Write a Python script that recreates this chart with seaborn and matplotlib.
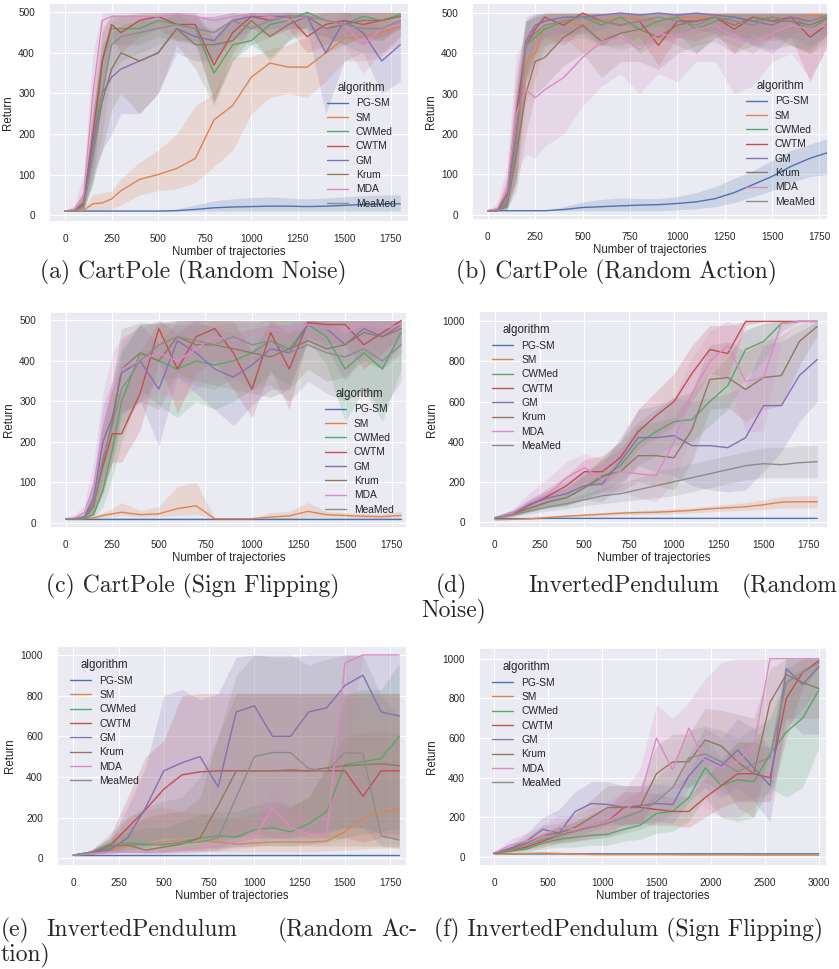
import pandas as pd
import matplotlib
matplotlib.use("Agg")
import matplotlib.pyplot as plt
import seaborn as sns

# algorytmy w kolejnosci legendy
ALGOS = ["PG-SM", "SM", "CWMed", "CWTM", "GM", "Krum", "MDA", "MeaMed"]

# osie x (liczba trajektorii)
X_CP = [0, 50, 100, 150, 200, 250, 300, 400, 500, 600, 700, 800, 900, 1000,
        1100, 1200, 1300, 1400, 1500, 1600, 1700, 1800]
X_IP = [0, 100, 200, 300, 400, 500, 600, 700, 800, 900, 1000, 1100, 1200,
        1300, 1400, 1500, 1600, 1700, 1800]
X_IP3K = [0, 150, 300, 450, 600, 750, 900, 1050, 1200, 1350, 1500, 1650,
          1800, 1950, 2100, 2250, 2400, 2550, 2700, 2850, 3000]

# (a) CartPole, Random Noise
A_MEAN = {
    "PG-SM": [10, 10, 10, 10, 10, 10, 10, 10, 10, 11, 14, 18, 20, 21, 22, 22, 21, 22, 24, 26, 27, 28],
    "SM": [10, 10, 12, 28, 30, 40, 60, 88, 100, 115, 140, 235, 270, 340, 375, 365, 365, 400, 435, 440, 450, 465],
    "CWMed": [10, 10, 30, 150, 380, 460, 460, 460, 480, 470, 460, 350, 420, 430, 470, 480, 500, 480, 470, 490, 480, 495],
    "CWTM": [10, 10, 30, 200, 380, 470, 450, 480, 490, 470, 470, 370, 450, 490, 480, 490, 440, 470, 480, 470, 480, 490],
    "GM": [10, 10, 25, 180, 300, 340, 360, 380, 400, 460, 440, 430, 480, 490, 490, 490, 490, 400, 480, 450, 380, 420],
    "Krum": [10, 10, 25, 150, 280, 360, 400, 380, 400, 460, 420, 420, 430, 480, 440, 470, 490, 460, 470, 480, 480, 490],
    "MDA": [10, 15, 50, 300, 480, 490, 490, 490, 490, 495, 490, 480, 490, 495, 490, 480, 490, 480, 470, 420, 460, 470],
    "MeaMed": [10, 10, 20, 150, 300, 420, 440, 450, 460, 470, 460, 450, 480, 460, 480, 490, 490, 480, 470, 460, 460, 480],
}
A_LO = {
    "PG-SM": [10] * 22,
    "SM": [10, 10, 10, 12, 12, 15, 25, 50, 60, 65, 80, 120, 160, 250, 290, 300, 290, 330, 380, 380, 390, 440],
    "CWMed": [10, 10, 15, 80, 300, 420, 420, 420, 440, 430, 420, 280, 380, 420, 390, 430, 450, 440, 420, 440, 430, 470],
    "CWTM": [10, 10, 15, 120, 300, 440, 400, 440, 460, 430, 430, 280, 400, 460, 440, 460, 400, 420, 440, 420, 440, 460],
    "GM": [10, 10, 15, 100, 160, 200, 250, 250, 300, 400, 380, 380, 430, 460, 460, 460, 460, 250, 380, 400, 300, 330],
    "Krum": [10, 10, 15, 80, 160, 260, 300, 250, 300, 420, 360, 270, 380, 440, 380, 430, 470, 400, 420, 440, 430, 460],
    "MDA": [10, 10, 20, 200, 430, 470, 470, 470, 470, 480, 470, 440, 460, 480, 470, 440, 470, 440, 420, 350, 400, 420],
    "MeaMed": [10, 10, 12, 80, 200, 350, 380, 400, 420, 440, 420, 380, 440, 420, 440, 460, 460, 440, 420, 400, 400, 440],
}
A_HI = {
    "PG-SM": [10, 10, 10, 10, 10, 10, 10, 10, 11, 15, 25, 35, 40, 43, 45, 42, 40, 42, 45, 48, 50, 50],
    "SM": [10, 12, 20, 50, 55, 60, 90, 130, 160, 200, 270, 300, 390, 390, 410, 420, 440, 460, 470, 470, 480, 480],
    "CWMed": [10, 15, 60, 250, 450, 495, 495, 495, 500, 500, 495, 430, 480, 500, 500, 500, 500, 500, 500, 500, 500, 500],
    "CWTM": [10, 15, 60, 300, 460, 495, 490, 500, 500, 500, 500, 440, 490, 500, 500, 500, 490, 500, 500, 500, 500, 500],
    "GM": [10, 15, 50, 260, 420, 460, 460, 480, 490, 500, 490, 490, 500, 500, 500, 500, 500, 460, 500, 490, 460, 480],
    "Krum": [10, 15, 50, 250, 400, 450, 470, 480, 480, 495, 470, 460, 480, 500, 480, 500, 500, 500, 500, 500, 500, 500],
    "MDA": [10, 25, 100, 400] + [500] * 18,
    "MeaMed": [10, 15, 40, 250, 420, 480, 490, 490, 490, 495, 490, 490, 500, 490, 500, 500, 500, 500, 500, 500, 500, 500],
}

# (b) CartPole, Random Action
B_MEAN = {
    "PG-SM": [10, 10, 10, 10, 10, 10, 10, 13, 18, 20, 22, 24, 25, 28, 32, 40, 55, 75, 95, 120, 140, 155],
    "SM": [10, 12, 30, 170, 380, 400, 470, 480, 470, 480, 490, 485, 480, 490, 490, 495, 490, 480, 490, 485, 495, 490],
    "CWMed": [10, 12, 40, 200, 420, 440, 460, 480, 490, 470, 490, 460, 480, 490, 460, 480, 490, 480, 490, 480, 460, 490],
    "CWTM": [10, 12, 50, 250, 420, 460, 490, 470, 500, 480, 470, 480, 420, 480, 480, 490, 460, 490, 480, 490, 440, 475],
    "GM": [10, 10, 30, 200, 430, 470, 480, 490, 490, 495, 500, 495, 500, 495, 500, 495, 490, 480, 470, 490, 480, 495],
    "Krum": [10, 10, 20, 150, 300, 380, 390, 440, 470, 430, 450, 460, 440, 470, 480, 490, 470, 490, 480, 480, 470, 490],
    "MDA": [10, 15, 60, 250, 310, 290, 310, 340, 390, 430, 440, 410, 450, 440, 460, 470, 440, 430, 450, 470, 460, 470],
    "MeaMed": [10, 10, 25, 180, 420, 450, 470, 480, 490, 480, 470, 480, 490, 480, 470, 490, 480, 470, 490, 480, 480, 495],
}
B_LO = {
    "PG-SM": [10, 10, 10, 10, 10, 10, 10, 10, 10, 10, 10, 10, 10, 12, 15, 20, 30, 45, 60, 80, 95, 100],
    "SM": [10, 10, 15, 80, 280, 340, 420, 440, 400, 420, 450, 420, 430, 440, 450, 460, 450, 420, 440, 450, 460, 440],
    "CWMed": [10, 10, 20, 100, 330, 380, 400, 440, 450, 420, 450, 400, 430, 450, 400, 440, 450, 430, 450, 420, 400, 450],
    "CWTM": [10, 10, 25, 130, 340, 400, 440, 420, 460, 420, 420, 440, 370, 440, 430, 450, 400, 450, 430, 440, 330, 430],
    "GM": [10, 10, 15, 90, 350, 420, 440, 450, 450, 460, 470, 460, 470, 450, 460, 450, 440, 420, 400, 440, 420, 450],
    "Krum": [10, 10, 12, 60, 200, 300, 320, 370, 400, 340, 380, 380, 360, 400, 420, 430, 400, 420, 410, 420, 400, 430],
    "MDA": [10, 10, 20, 100, 150, 140, 170, 200, 270, 320, 350, 300, 350, 330, 380, 380, 300, 320, 380, 400, 340, 420],
    "MeaMed": [10, 10, 12, 80, 330, 390, 420, 430, 440, 420, 410, 420, 440, 420, 400, 440, 420, 400, 440, 420, 410, 450],
}
B_HI = {
    "PG-SM": [10, 10, 10, 10, 10, 10, 10, 20, 32, 38, 42, 40, 40, 45, 55, 70, 90, 110, 135, 160, 175, 190],
    "SM": [10, 20, 70, 300, 450, 470, 500] + [500] * 15,
    "CWMed": [10, 20, 80, 300, 480, 490, 495] + [500] * 15,
    "CWTM": [10, 20, 90, 350, 480, 495, 500, 500, 500, 500, 500, 500, 480] + [500] * 9,
    "GM": [10, 15, 60, 320, 490, 500, 500] + [500] * 15,
    "Krum": [10, 15, 40, 250, 420, 460, 470, 490, 500, 495] + [500] * 12,
    "MDA": [10, 30, 120, 400, 430, 440, 460, 470, 480, 495, 500, 490] + [500] * 10,
    "MeaMed": [10, 15, 50, 280, 480, 495] + [500] * 16,
}

# (c) CartPole, Sign Flipping
C_MEAN = {
    "PG-SM": [10] * 22,
    "SM": [10, 10, 10, 12, 18, 22, 26, 20, 22, 35, 42, 10, 10, 10, 14, 17, 28, 20, 18, 16, 15, 18],
    "CWMed": [10, 10, 10, 20, 80, 180, 300, 420, 400, 380, 400, 390, 400, 420, 450, 430, 490, 460, 380, 420, 380, 470],
    "CWTM": [10, 10, 12, 50, 140, 220, 220, 320, 480, 380, 460, 480, 420, 330, 470, 380, 495, 490, 490, 440, 470, 500],
    "GM": [10, 10, 15, 60, 200, 260, 370, 400, 330, 450, 420, 380, 360, 390, 430, 420, 490, 480, 440, 480, 460, 490],
    "Krum": [10, 10, 12, 40, 150, 250, 380, 420, 400, 460, 440, 440, 430, 420, 410, 430, 450, 430, 440, 470, 460, 480],
    "MDA": [10, 12, 25, 90, 230, 320, 380, 400, 420, 400, 430, 460, 450, 470, 480, 470, 490, 480, 470, 490, 480, 490],
    "MeaMed": [10, 10, 12, 50, 160, 240, 330, 400, 440, 460, 450, 440, 460, 440, 450, 420, 440, 420, 410, 430, 400, 440],
}
C_LO = {
    "PG-SM": [10] * 22,
    "SM": [10, 10, 10, 10, 12, 15, 18, 14, 15, 18, 20, 10, 10, 10, 10, 10, 15, 14, 14, 12, 12, 12],
    "CWMed": [10, 10, 10, 12, 40, 110, 200, 330, 290, 260, 300, 280, 300, 330, 370, 340, 450, 390, 250, 330, 250, 380],
    "CWTM": [10, 10, 10, 20, 70, 150, 150, 230, 400, 270, 370, 400, 330, 260, 380, 280, 460, 440, 440, 380, 420, 460],
    "GM": [10, 10, 10, 25, 110, 170, 270, 300, 190, 360, 320, 280, 240, 290, 330, 330, 450, 430, 350, 420, 380, 440],
    "Krum": [10, 10, 10, 20, 80, 150, 270, 300, 280, 370, 350, 340, 330, 320, 310, 330, 380, 350, 360, 400, 380, 420],
    "MDA": [10, 10, 15, 40, 140, 220, 280, 300, 320, 300, 330, 360, 350, 380, 400, 380, 440, 420, 400, 430, 420, 440],
    "MeaMed": [10, 10, 10, 25, 90, 150, 240, 300, 350, 360, 340, 330, 360, 330, 340, 300, 350, 320, 300, 330, 280, 350],
}
C_HI = {
    "PG-SM": [11] * 22,
    "SM": [10, 10, 10, 15, 25, 35, 50, 30, 40, 90, 100, 12, 10, 12, 25, 28, 50, 28, 25, 22, 22, 28],
    "CWMed": [10, 10, 15, 40, 150, 280, 420, 490, 495, 490, 490, 490, 495, 495, 500, 500, 500, 500, 470, 490, 480, 500],
    "CWTM": [10, 10, 20, 90, 220, 320, 320, 420, 500, 470, 500, 500, 500, 420, 500, 470, 500, 500, 500, 500, 500, 500],
    "GM": [10, 10, 30, 110, 290, 350, 450, 490, 440, 500, 500, 480, 470, 480, 490, 490, 500, 500, 500, 500, 500, 500],
    "Krum": [10, 10, 20, 80, 250, 350, 480, 495, 490] + [500] * 13,
    "MDA": [10, 20, 45, 150, 320, 420, 460, 480, 500, 490] + [500] * 12,
    "MeaMed": [10, 10, 20, 90, 240, 330, 430, 490, 495] + [500] * 13,
}

# (d) InvertedPendulum, Random Noise
D_MEAN = {
    "PG-SM": [15, 16, 16, 17, 17, 17, 17, 17, 17, 17, 17, 17, 17, 17, 17, 17, 17, 17, 17],
    "SM": [10, 12, 15, 22, 28, 33, 38, 43, 46, 48, 52, 57, 65, 70, 75, 85, 98, 100, 100],
    "CWMed": [20, 40, 70, 100, 120, 170, 220, 280, 390, 450, 500, 510, 600, 680, 860, 900, 990, 1000, 1000],
    "CWTM": [20, 40, 85, 130, 180, 250, 250, 320, 450, 530, 600, 740, 860, 840, 1000, 1000, 1000, 1000, 1000],
    "GM": [20, 45, 90, 120, 140, 180, 190, 300, 420, 420, 430, 380, 380, 370, 420, 580, 580, 730, 810],
    "Krum": [20, 40, 70, 100, 120, 170, 230, 250, 330, 330, 320, 460, 710, 720, 660, 720, 730, 900, 975],
    "MDA": [20, 45, 100, 140, 220, 270, 210, 250, 240, 230, 400, 640, 800, 880, 700, 720, 990, 1000, 1000],
    "MeaMed": [20, 35, 55, 75, 90, 110, 130, 140, 160, 180, 200, 220, 240, 260, 280, 290, 285, 295, 300],
}
D_LO = {
    "PG-SM": [14] * 19,
    "SM": [10, 11, 13, 18, 23, 27, 30, 34, 36, 38, 40, 45, 50, 55, 58, 62, 70, 70, 70],
    "CWMed": [15, 30, 50, 70, 80, 120, 150, 200, 280, 330, 380, 400, 480, 560, 720, 800, 950, 1000, 1000],
    "CWTM": [15, 30, 60, 95, 130, 190, 180, 250, 360, 420, 480, 600, 740, 720, 980, 1000, 1000, 1000, 1000],
    "GM": [15, 30, 60, 80, 90, 110, 100, 180, 280, 250, 230, 180, 160, 150, 160, 250, 350, 500, 600],
    "Krum": [15, 28, 50, 70, 80, 110, 150, 150, 200, 180, 160, 300, 560, 570, 500, 560, 580, 780, 930],
    "MDA": [15, 30, 60, 90, 150, 190, 130, 150, 120, 100, 200, 450, 620, 700, 450, 450, 900, 1000, 1000],
    "MeaMed": [15, 25, 40, 55, 65, 80, 90, 100, 110, 120, 130, 150, 170, 190, 210, 220, 220, 220, 220],
}
D_HI = {
    "PG-SM": [20] * 19,
    "SM": [12, 14, 18, 26, 33, 40, 46, 52, 56, 60, 65, 70, 80, 88, 95, 110, 125, 130, 130],
    "CWMed": [25, 55, 95, 140, 170, 230, 320, 400, 500, 560, 620, 650, 730, 820, 960, 990, 1000, 1000, 1000],
    "CWTM": [25, 55, 110, 170, 230, 310, 330, 400, 560, 650, 740, 880, 980, 980, 1000, 1000, 1000, 1000, 1000],
    "GM": [25, 60, 120, 160, 200, 260, 290, 420, 560, 580, 620, 600, 620, 640, 680, 880, 900, 950, 1000],
    "Krum": [25, 55, 95, 140, 170, 240, 310, 360, 480, 500, 520, 650, 880, 900, 850, 900, 930, 990, 1000],
    "MDA": [25, 65, 150, 220, 300, 340, 310, 370, 400, 420, 620, 820, 950, 1000, 950, 990, 1000, 1000, 1000],
    "MeaMed": [25, 45, 70, 95, 115, 140, 170, 190, 220, 250, 270, 290, 310, 330, 350, 370, 370, 380, 380],
}

# (e) InvertedPendulum, Random Action
E_MEAN = {
    "PG-SM": [15] * 19,
    "SM": [15, 25, 40, 60, 70, 80, 90, 90, 80, 70, 75, 80, 80, 80, 85, 130, 200, 225, 240],
    "CWMed": [15, 28, 50, 75, 70, 65, 80, 100, 110, 105, 140, 150, 130, 170, 230, 460, 475, 490, 600],
    "CWTM": [15, 28, 60, 150, 240, 340, 410, 425, 430, 430, 430, 430, 430, 430, 430, 430, 305, 430, 430],
    "GM": [15, 30, 40, 100, 250, 430, 470, 500, 350, 720, 750, 600, 600, 720, 740, 850, 900, 720, 700],
    "Krum": [15, 30, 60, 65, 40, 55, 70, 100, 260, 430, 430, 430, 435, 430, 445, 455, 460, 465, 455],
    "MDA": [15, 22, 28, 30, 30, 32, 40, 50, 60, 80, 100, 250, 150, 120, 120, 960, 1000, 1000, 1000],
    "MeaMed": [15, 30, 70, 70, 65, 70, 75, 80, 100, 300, 500, 520, 520, 440, 430, 520, 515, 110, 90],
}
E_LO = {
    "PG-SM": [14] * 19,
    "SM": [15, 18, 25, 30, 30, 30, 30, 30, 30, 30, 30, 30, 30, 30, 35, 40, 45, 50, 50],
    "CWMed": [15, 20, 30, 40, 40, 40, 45, 50, 55, 55, 60, 65, 60, 70, 80, 100, 120, 130, 150],
    "CWTM": [15, 20, 30, 60, 80, 100, 100, 100, 100, 100, 100, 100, 100, 100, 100, 100, 80, 100, 100],
    "GM": [15, 20, 25, 40, 60, 80, 80, 80, 80, 100, 120, 100, 100, 120, 130, 150, 150, 120, 120],
    "Krum": [15, 20, 30, 35, 25, 25, 30, 35, 40, 60, 60, 60, 60, 60, 60, 60, 60, 60, 60],
    "MDA": [15, 18, 20, 20, 20, 20, 25, 30, 35, 45, 55, 100, 80, 70, 70, 500, 1000, 1000, 1000],
    "MeaMed": [15, 20, 35, 35, 35, 35, 40, 40, 45, 80, 150, 150, 150, 120, 120, 150, 150, 60, 50],
}
E_HI = {
    "PG-SM": [17] * 19,
    "SM": [15, 35, 80, 200, 240, 250, 230, 220, 200, 200, 220, 250, 250, 300, 450, 600, 620, 620, 620],
    "CWMed": [15, 40, 80, 130, 150, 150, 180, 220, 230, 230, 260, 280, 260, 300, 450, 800, 830, 830, 960],
    "CWTM": [15, 40, 100, 300, 500, 580, 800] + [810] * 12,
    "GM": [15, 40, 80, 250, 450, 800, 830, 780, 810, 990, 1000, 990, 990, 1000, 1000, 1000, 1000, 1000, 1000],
    "Krum": [15, 40, 100, 150, 200, 220, 230, 300, 600] + [810] * 10,
    "MDA": [15, 30, 40, 45, 45, 50, 60, 80, 100, 150, 200, 350, 250, 200, 200, 1000, 1000, 1000, 1000],
    "MeaMed": [15, 40, 120, 200, 250, 280, 300, 400, 600, 900, 1000, 1000, 1000, 950, 980, 1000, 1000, 800, 700],
}

# (f) InvertedPendulum, Sign Flipping
F_MEAN = {
    "PG-SM": [18] + [16] * 20,
    "SM": [15, 16, 18, 20, 18, 15, 13, 12, 12, 12, 12, 12, 11, 11, 11, 11, 10, 10, 10, 10, 10],
    "CWMed": [20, 30, 40, 70, 90, 100, 110, 115, 140, 160, 220, 230, 300, 450, 360, 390, 380, 520, 630, 700, 840],
    "CWTM": [20, 35, 50, 80, 110, 130, 160, 180, 250, 250, 240, 230, 230, 300, 360, 420, 420, 400, 800, 930, 990],
    "GM": [20, 45, 80, 140, 120, 230, 270, 265, 250, 260, 270, 265, 410, 500, 460, 540, 450, 360, 950, 870, 960],
    "Krum": [20, 40, 70, 110, 120, 150, 200, 250, 250, 255, 420, 480, 480, 590, 560, 480, 420, 780, 920, 880, 850],
    "MDA": [20, 60, 80, 110, 150, 140, 160, 180, 230, 300, 600, 440, 650, 480, 450, 480, 560, 1000, 1000, 1000, 1000],
    "MeaMed": [20, 35, 60, 90, 110, 130, 150, 170, 200, 230, 280, 350, 500, 520, 480, 430, 470, 500, 880, 930, 980],
}
F_LO = {
    "PG-SM": [14] * 21,
    "SM": [12, 12, 12, 12, 12, 11, 10, 10, 10, 10, 10, 10, 9, 9, 9, 9, 8, 8, 8, 8, 8],
    "CWMed": [15, 20, 25, 40, 50, 50, 60, 60, 80, 90, 120, 130, 180, 300, 200, 180, 200, 350, 300, 350, 550],
    "CWTM": [15, 25, 35, 50, 70, 80, 100, 110, 170, 170, 160, 160, 150, 200, 250, 280, 280, 280, 600, 850, 950],
    "GM": [15, 30, 50, 90, 80, 150, 180, 180, 160, 170, 180, 170, 280, 350, 300, 350, 280, 180, 700, 620, 620],
    "Krum": [15, 28, 45, 70, 80, 100, 130, 160, 160, 160, 300, 350, 350, 420, 380, 250, 200, 550, 700, 700, 700],
    "MDA": [15, 30, 50, 70, 90, 80, 90, 100, 130, 180, 300, 250, 400, 250, 200, 200, 250, 700, 1000, 1000, 1000],
    "MeaMed": [15, 25, 40, 60, 70, 80, 90, 100, 120, 140, 170, 220, 350, 380, 330, 280, 300, 320, 650, 750, 850],
}
F_HI = {
    "PG-SM": [19] * 21,
    "SM": [18, 22, 26, 30, 28, 22, 18, 16, 15, 15, 15, 15, 14, 14, 14, 14, 13, 13, 13, 13, 13],
    "CWMed": [25, 40, 60, 110, 150, 160, 180, 190, 220, 240, 320, 340, 420, 600, 500, 580, 580, 700, 900, 950, 980],
    "CWTM": [25, 45, 70, 110, 150, 180, 220, 250, 330, 330, 320, 300, 310, 400, 480, 580, 580, 550, 950, 1000, 1000],
    "GM": [25, 60, 120, 200, 240, 330, 380, 380, 360, 360, 370, 360, 520, 650, 600, 700, 650, 550, 1000, 1000, 1000],
    "Krum": [25, 55, 100, 160, 170, 220, 290, 360, 360, 360, 560, 620, 620, 750, 740, 720, 700, 950, 1000, 1000, 1000],
    "MDA": [25, 90, 120, 160, 210, 210, 250, 280, 330, 450, 770, 700, 780, 900, 980] + [1000] * 6,
    "MeaMed": [25, 45, 80, 120, 150, 180, 210, 240, 290, 330, 400, 480, 640, 660, 640, 600, 650, 700, 1000, 1000, 1000],
}

sns.set_theme(style="darkgrid", rc={
    "xtick.labelsize": 7.2, "ytick.labelsize": 7.2, "axes.labelsize": 8.3,
    "legend.fontsize": 7.4, "legend.title_fontsize": 8.3,
    "grid.linewidth": 0.8, "lines.linewidth": 1.0,
    "xtick.major.pad": 3, "ytick.major.pad": 4, "axes.labelpad": 2,
})
plt.rcParams["font.family"] = ["Liberation Sans", "DejaVu Sans"]

W, H = 839, 969
fig = plt.figure(figsize=(W / 100, H / 100), dpi=100)
palette = dict(zip(ALGOS, sns.color_palette("deep", 8)))


def panel(rect, x, mean, lo, hi, xlim, ylim, xticks, yticks, loc):
    l, t, r, b = rect
    ax = fig.add_axes([l / W, 1 - b / H, (r - l) / W, (b - t) / H])
    for algo in ALGOS:
        ax.fill_between(x, lo[algo], hi[algo], color=palette[algo], alpha=0.2, linewidth=0)
    rows = []
    for algo in ALGOS:
        for xi, yi in zip(x, mean[algo]):
            rows.append((xi, yi, algo))
    df = pd.DataFrame(rows, columns=["traj", "Return", "algorithm"])
    sns.lineplot(data=df, x="traj", y="Return", hue="algorithm", hue_order=ALGOS,
                 palette=palette, errorbar=None, linewidth=1.0, ax=ax)
    ax.set_xlim(*xlim)
    ax.set_ylim(*ylim)
    ax.set_xticks(xticks)
    ax.set_yticks(yticks)
    ax.set_xlabel("Number of trajectories", labelpad=1)
    ax.set_ylabel("Return", labelpad=3)
    sns.move_legend(ax, loc, frameon=False, labelspacing=0.42, borderaxespad=0.9)
    return ax


cp_x = list(range(0, 1751, 250))
panel((49, 3, 409, 222), X_CP, A_MEAN, A_LO, A_HI, (-86, 1847), (-17, 523), cp_x, range(0, 501, 100), "lower right")
panel((472, 3, 828, 220), X_CP, B_MEAN, B_LO, B_HI, (-84, 1795), (-13, 525), cp_x, range(0, 501, 100), "lower right")
panel((50, 312, 407, 528), X_CP, C_MEAN, C_LO, C_HI, (-84, 1832), (-13, 521), cp_x, range(0, 501, 100), "lower right")
panel((479, 311, 828, 528), X_IP, D_MEAN, D_LO, D_HI, (-89, 1860), (-31, 1052), cp_x, range(0, 1001, 200), "upper left")
panel((57, 646, 407, 866), X_IP, E_MEAN, E_LO, E_HI, (-90, 1843), (-38, 1044), cp_x, range(0, 1001, 200), "upper left")
panel((479, 648, 827, 866), X_IP3K, F_MEAN, F_LO, F_HI, (-139, 3076), (-45, 1054), range(0, 3001, 500), range(0, 1001, 200), "upper left")

# podpisy jak w LaTeX
cap = dict(fontfamily="cmr10", fontsize=17, va="center")


def caption(x, y, s, ha):
    fig.text(x / W, 1 - y / H, s, ha=ha, **cap)


caption(193, 272, "(a) CartPole (Random Noise)", "center")
caption(616, 272, "(b) CartPole (Random Action)", "center")
caption(193, 586, "(c) CartPole (Sign Flipping)", "center")
caption(436, 586, "(d)", "left")
caption(624, 586, "InvertedPendulum", "center")
caption(838, 586, "(Random", "right")
caption(421, 611, "Noise)", "left")
caption(1, 930, "(e)", "left")
caption(46, 930, "InvertedPendulum", "left")
caption(278, 930, "(Random", "left")
caption(417, 930, "Ac-", "right")
caption(1, 955, "tion)", "left")
caption(628, 930, "(f) InvertedPendulum (Sign Flipping)", "center")

fig.savefig("out.png", dpi=100)
